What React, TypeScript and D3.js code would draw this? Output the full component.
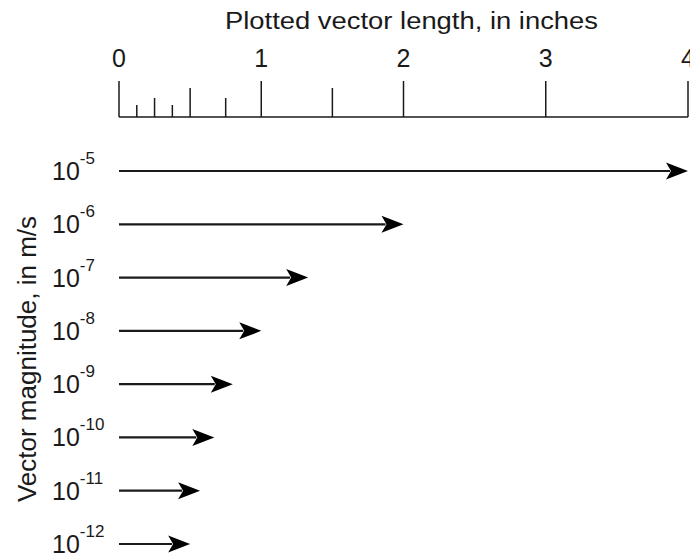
import React, { useEffect, useRef } from 'react';
import * as d3 from 'd3';

// exponents of the vector magnitude (10^e m/s) and the plotted length in inches
const exponents = [-5, -6, -7, -8, -9, -10, -11, -12];
const lengths = [4, 2, 1.33, 1, 0.8, 0.67, 0.57, 0.5];

const majorTicks = [0, 1, 2, 3, 4];
const minorTicks = [
  { v: 0.125, h: 12 },
  { v: 0.25, h: 19 },
  { v: 0.375, h: 12 },
  { v: 0.5, h: 29 },
  { v: 0.75, h: 19 },
  { v: 1.5, h: 29 },
];

const W = 690;
const H = 558;
const font = 'Liberation Sans, Arial, sans-serif';
const ink = '#1a1a1a';

export default function App() {
  const ref = useRef<SVGSVGElement>(null);

  useEffect(() => {
    const svg = d3.select(ref.current);
    svg.selectAll('*').remove();

    const x = d3.scaleLinear().domain([0, 4]).range([119, 688]);
    const y = d3.scalePoint<number>().domain(exponents).range([171, 544]);
    const base = 117;

    // title
    svg.append('text')
      .attr('x', x(0) + 106)
      .attr('y', 29)
      .attr('textLength', 373)
      .attr('lengthAdjust', 'spacingAndGlyphs')
      .style('font-family', font)
      .style('font-size', '23px')
      .attr('fill', ink)
      .text('Plotted vector length, in inches');

    // ruler
    const g = svg.append('g');
    g.append('line')
      .attr('x1', x(0)).attr('x2', x(4))
      .attr('y1', base).attr('y2', base)
      .attr('stroke', ink).attr('stroke-width', 1.5);
    g.selectAll('line.major')
      .data(majorTicks)
      .enter().append('line')
      .attr('class', 'major')
      .attr('x1', d => x(d)).attr('x2', d => x(d))
      .attr('y1', base).attr('y2', base - 36)
      .attr('stroke', ink).attr('stroke-width', 1.5);
    g.selectAll('line.minor')
      .data(minorTicks)
      .enter().append('line')
      .attr('class', 'minor')
      .attr('x1', d => x(d.v)).attr('x2', d => x(d.v))
      .attr('y1', base).attr('y2', d => base - d.h)
      .attr('stroke', ink).attr('stroke-width', 1.5);
    g.selectAll('text.tick')
      .data(majorTicks)
      .enter().append('text')
      .attr('class', 'tick')
      .attr('x', d => x(d))
      .attr('y', 67)
      .attr('text-anchor', 'middle')
      .style('font-family', font)
      .style('font-size', '25px')
      .attr('fill', ink)
      .text(d => d);

    // y label
    svg.append('text')
      .attr('transform', 'translate(36,359) rotate(-90)')
      .attr('text-anchor', 'middle')
      .style('font-family', font)
      .style('font-size', '26px')
      .attr('fill', ink)
      .text('Vector magnitude, in m/s');

    // rows
    const rows = svg.selectAll('g.row')
      .data(exponents.map((e, i) => ({ e, len: lengths[i] })))
      .enter().append('g')
      .attr('class', 'row')
      .attr('transform', d => `translate(0,${y(d.e)})`);

    const lab = rows.append('text')
      .attr('x', 52)
      .attr('y', 9)
      .style('font-family', font)
      .style('font-size', '25px')
      .attr('fill', ink);
    lab.append('tspan').text('10');
    lab.append('tspan')
      .attr('dy', -16)
      .style('font-size', '17px')
      .text(d => '-' + (-d.e));

    const headL = 22;
    const headW = 8.5;
    rows.append('line')
      .attr('x1', x(0))
      .attr('x2', d => x(d.len) - headL + 4)
      .attr('y1', 0).attr('y2', 0)
      .attr('stroke', ink).attr('stroke-width', 2.2);
    rows.append('path')
      .attr('d', d => {
        const t = x(d.len);
        return `M${t},0L${t - headL},${-headW}L${t - headL + 5},0L${t - headL},${headW}Z`;
      })
      .attr('fill', '#000');
  }, []);

  return (
    <svg
      ref={ref}
      width={W}
      height={H}
      style={{ position: 'absolute', left: 0, top: 0, background: '#fff' }}
    />
  );
}
